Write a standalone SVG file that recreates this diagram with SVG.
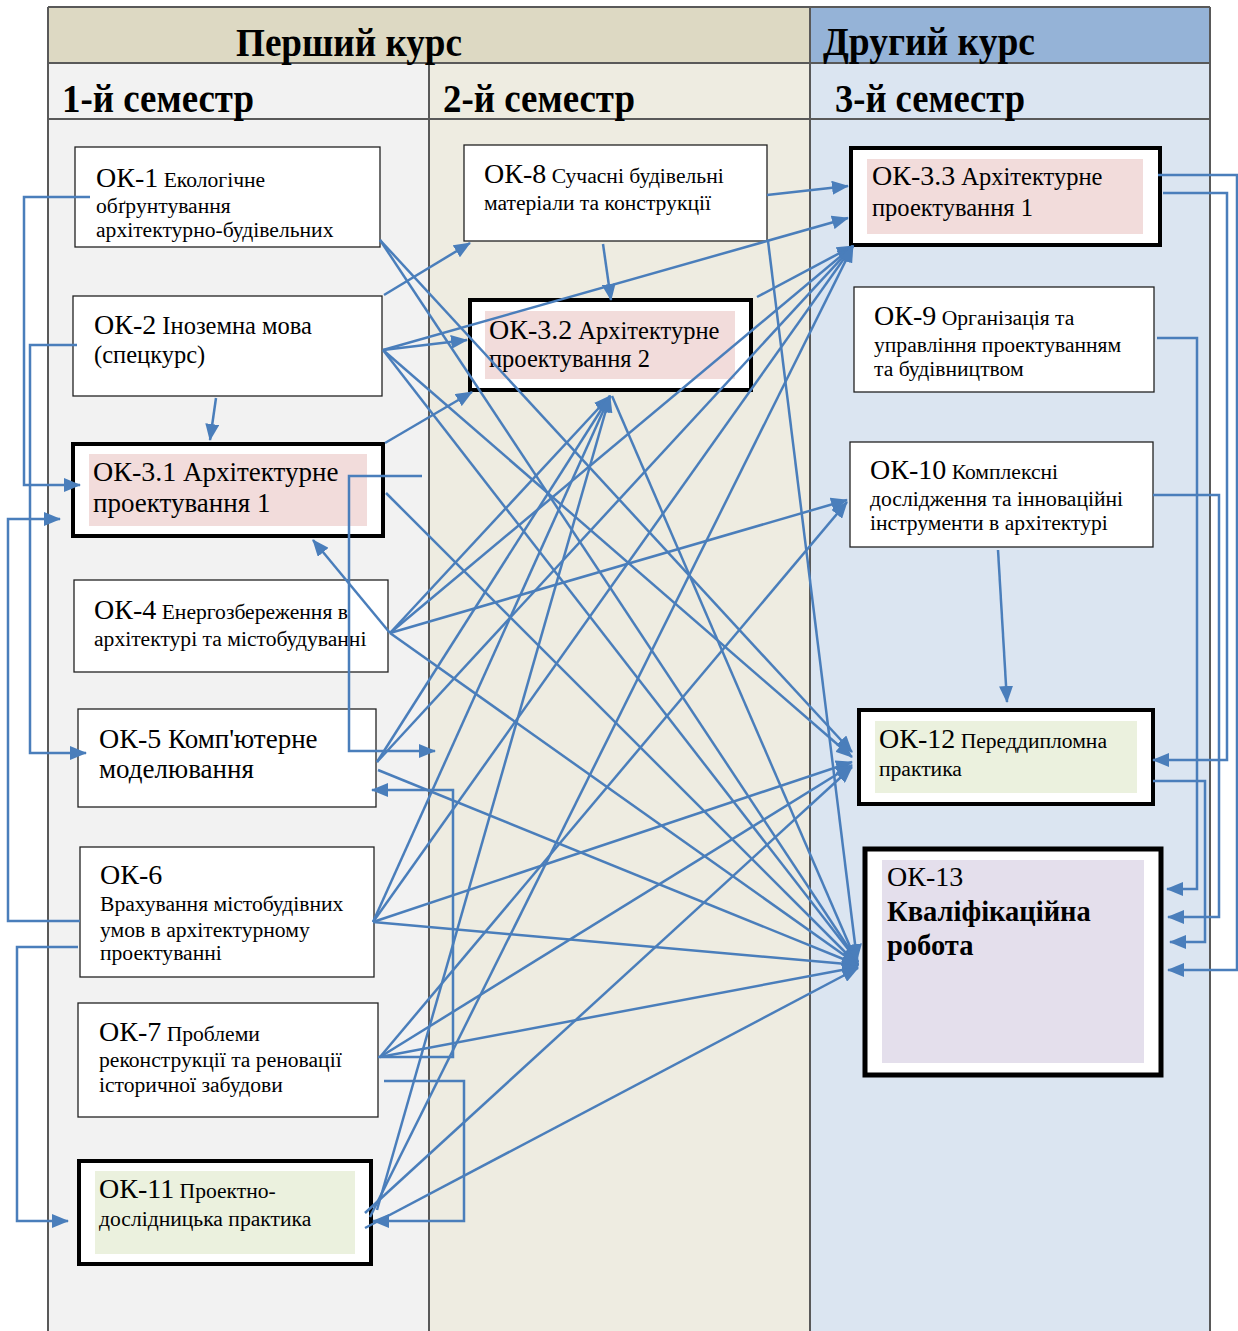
<svg xmlns="http://www.w3.org/2000/svg" width="1238" height="1331" viewBox="0 0 1238 1331">
<defs>
<marker id="ah" markerUnits="userSpaceOnUse" markerWidth="17" markerHeight="14" refX="16" refY="7" orient="auto"><path d="M0,0 L17,7 L0,14 z" fill="#4a7ebb"/></marker>
</defs>
<style>
.c{fill:none;stroke:#4a7ebb;stroke-width:2.5;marker-end:url(#ah)}
.box{fill:#fff;stroke:#222;stroke-width:1.3}
.tb{fill:#fff;stroke:#000;stroke-width:4}
.grid{stroke:#595959;stroke-width:2}
text{font-family:"Liberation Serif","Times New Roman",serif;fill:#000}
.h{font-weight:bold;font-size:40px}
.k{font-size:28px}
.s{font-size:21.6px}
.m{font-size:24.5px}
.l{font-size:27px}
.a{font-size:24.5px}
.b{font-weight:bold;font-size:28.5px}
</style>
<g id="table">
<rect x="48" y="7" width="762" height="56" fill="#ddd9c3"/>
<rect x="810" y="7" width="400" height="56" fill="#95b3d7"/>
<rect x="48" y="63" width="381" height="1268" fill="#f2f2f2"/>
<rect x="429" y="63" width="381" height="1268" fill="#eeece1"/>
<rect x="810" y="63" width="400" height="1268" fill="#dbe5f1"/>
<line class="grid" x1="48" y1="7" x2="1210" y2="7"/>
<line class="grid" x1="48" y1="63" x2="1210" y2="63"/>
<line class="grid" x1="48" y1="119" x2="1210" y2="119"/>
<line class="grid" x1="48" y1="7" x2="48" y2="1331"/>
<line class="grid" x1="429" y1="63" x2="429" y2="1331"/>
<line class="grid" x1="810" y1="7" x2="810" y2="1331"/>
<line class="grid" x1="1210" y1="7" x2="1210" y2="1331"/>
<text class="h" x="236" y="56" textLength="226" lengthAdjust="spacingAndGlyphs">Перший курс</text>
<text class="h" x="823" y="55" textLength="212" lengthAdjust="spacingAndGlyphs">Другий курс</text>
<text class="h" x="62" y="112" textLength="192" lengthAdjust="spacingAndGlyphs">1-й семестр</text>
<text class="h" x="443" y="112" textLength="192" lengthAdjust="spacingAndGlyphs">2-й семестр</text>
<text class="h" x="835" y="112" textLength="190" lengthAdjust="spacingAndGlyphs">3-й семестр</text>
</g>
<g id="ok1"><rect class="box" x="75" y="147" width="305" height="100"/>
<text x="96" y="187"><tspan class="k">ОК-1</tspan><tspan class="s"> Екологічне</tspan></text>
<text class="s" x="96" y="213">обґрунтування</text>
<text class="s" x="96" y="237">архітектурно-будівельних</text></g>
<g id="ok2"><rect class="box" x="73" y="296" width="309" height="100"/>
<text x="94" y="334"><tspan class="k">ОК-2</tspan><tspan class="m"> Іноземна мова</tspan></text>
<text class="m" x="94" y="363">(спецкурс)</text></g>
<g id="ok31"><rect class="tb" x="73" y="444" width="310" height="92"/>
<rect x="89" y="454" width="278" height="72" fill="#f2dcdb"/>
<text x="93" y="481"><tspan class="k">ОК-3.1</tspan><tspan class="l"> Архітектурне</tspan></text>
<text class="l" x="93" y="512">проектування 1</text></g>
<g id="ok4"><rect class="box" x="74" y="580" width="314" height="92"/>
<text x="94" y="619"><tspan class="k">ОК-4</tspan><tspan class="s"> Енергозбереження в</tspan></text>
<text class="s" x="94" y="646">архітектурі та містобудуванні</text></g>
<g id="ok5"><rect class="box" x="78" y="709" width="298" height="98"/>
<text x="99" y="748"><tspan class="k">ОК-5</tspan><tspan class="l"> Комп'ютерне</tspan></text>
<text class="l" x="99" y="778">моделювання</text></g>
<g id="ok6"><rect class="box" x="80" y="847" width="294" height="130"/>
<text class="k" x="100" y="884">ОК-6</text>
<text class="s" x="100" y="911">Врахування містобудівних</text>
<text class="s" x="100" y="937">умов в архітектурному</text>
<text class="s" x="100" y="960">проектуванні</text></g>
<g id="ok7"><rect class="box" x="78" y="1003" width="300" height="114"/>
<text x="99" y="1041"><tspan class="k">ОК-7</tspan><tspan class="s"> Проблеми</tspan></text>
<text class="s" x="99" y="1067">реконструкції та реновації</text>
<text class="s" x="99" y="1092">історичної забудови</text></g>
<g id="ok11"><rect class="tb" x="79" y="1161" width="292" height="103"/>
<rect x="95" y="1171" width="260" height="83" fill="#ebf1de"/>
<text x="99" y="1198"><tspan class="k">ОК-11</tspan><tspan class="s"> Проектно-</tspan></text>
<text class="s" x="99" y="1226">дослідницька практика</text></g>
<g id="ok8"><rect class="box" x="464" y="145" width="303" height="96"/>
<text x="484" y="183"><tspan class="k">ОК-8</tspan><tspan class="s"> Сучасні будівельні</tspan></text>
<text class="s" x="484" y="210">матеріали та конструкції</text></g>
<g id="ok32"><rect class="tb" x="470" y="300" width="281" height="90"/>
<rect x="485" y="311" width="250" height="68" fill="#f2dcdb"/>
<text x="489" y="339"><tspan class="k">ОК-3.2</tspan><tspan class="a"> Архітектурне</tspan></text>
<text class="a" x="489" y="367">проектування 2</text></g>
<g id="ok33"><rect class="tb" x="851" y="148" width="309" height="97"/>
<rect x="867" y="159" width="276" height="75" fill="#f2dcdb"/>
<text x="872" y="185"><tspan class="k">ОК-3.3</tspan><tspan class="a"> Архітектурне</tspan></text>
<text class="a" x="872" y="216">проектування 1</text></g>
<g id="ok9"><rect class="box" x="854" y="287" width="300" height="105"/>
<text x="874" y="325"><tspan class="k">ОК-9</tspan><tspan class="s"> Організація та</tspan></text>
<text class="s" x="874" y="352">управління проектуванням</text>
<text class="s" x="874" y="376">та будівництвом</text></g>
<g id="ok10"><rect class="box" x="850" y="442" width="303" height="105"/>
<text x="870" y="479"><tspan class="k">ОК-10</tspan><tspan class="s"> Комплексні</tspan></text>
<text class="s" x="870" y="506">дослідження та інноваційні</text>
<text class="s" x="870" y="530">інструменти в архітектурі</text></g>
<g id="ok12"><rect class="tb" x="859" y="710" width="294" height="94"/>
<rect x="875" y="721" width="262" height="72" fill="#ebf1de"/>
<text x="879" y="748"><tspan class="k">ОК-12</tspan><tspan class="s"> Переддипломна</tspan></text>
<text class="s" x="879" y="776">практика</text></g>
<g id="ok13"><rect x="865" y="849" width="296" height="226" fill="#fff" stroke="#000" stroke-width="5"/>
<rect x="882" y="860" width="262" height="203" fill="#e4dfec"/>
<text class="k" x="887" y="886">ОК-13</text>
<text class="b" x="887" y="921">Кваліфікаційна</text>
<text class="b" x="887" y="955">робота</text></g>
<g id="connectors">
<polyline class="c" points="90,197 24,197 24,485 80,485"/>
<polyline class="c" points="77,345 30,345 30,753 86,753"/>
<polyline class="c" points="80,921 8,921 8,519 60,519"/>
<polyline class="c" points="78,947 17,947 17,1221 68,1221"/>
<polyline class="c" points="422,476 349,476 349,751 435,751"/>
<polyline class="c" points="378,1057 453,1057 453,790 372,790"/>
<polyline class="c" points="384,1081 464,1081 464,1221 373,1221"/>
<polyline class="c" points="1158,175 1237,175 1237,970 1168,970"/>
<polyline class="c" points="1163,193 1227,193 1227,760 1153,760"/>
<polyline class="c" points="1157,338 1197,338 1197,889 1167,889"/>
<polyline class="c" points="1153,495 1219,495 1219,917 1168,917"/>
<polyline class="c" points="1153,781 1205,781 1205,942 1170,942"/>
<line class="c" x1="998" y1="550" x2="1007" y2="702"/>
<line class="c" x1="216" y1="398" x2="210" y2="440"/>
<line class="c" x1="603" y1="244" x2="611" y2="300"/>
<line class="c" x1="380" y1="240" x2="852" y2="752"/>
<line class="c" x1="380" y1="240" x2="858" y2="962"/>
<line class="c" x1="384" y1="295" x2="470" y2="243"/>
<line class="c" x1="383" y1="350" x2="467" y2="340"/>
<line class="c" x1="383" y1="350" x2="848" y2="218"/>
<line class="c" x1="383" y1="350" x2="852" y2="757"/>
<line class="c" x1="383" y1="350" x2="858" y2="962"/>
<line class="c" x1="385" y1="443" x2="472" y2="392"/>
<line class="c" x1="386" y1="493" x2="858" y2="965"/>
<line class="c" x1="767" y1="195" x2="848" y2="186"/>
<line class="c" x1="768" y1="241" x2="857" y2="960"/>
<line class="c" x1="757" y1="297" x2="853" y2="246"/>
<line class="c" x1="612" y1="396" x2="858" y2="965"/>
<line class="c" x1="390" y1="633" x2="313" y2="540"/>
<line class="c" x1="390" y1="633" x2="610" y2="396"/>
<line class="c" x1="390" y1="633" x2="853" y2="246"/>
<line class="c" x1="390" y1="633" x2="847" y2="500"/>
<line class="c" x1="390" y1="633" x2="858" y2="965"/>
<line class="c" x1="377" y1="762" x2="610" y2="396"/>
<line class="c" x1="377" y1="762" x2="853" y2="246"/>
<line class="c" x1="378" y1="770" x2="858" y2="965"/>
<line class="c" x1="373" y1="922" x2="610" y2="396"/>
<line class="c" x1="373" y1="922" x2="853" y2="246"/>
<line class="c" x1="373" y1="922" x2="852" y2="762"/>
<line class="c" x1="373" y1="922" x2="858" y2="965"/>
<line class="c" x1="380" y1="1057" x2="847" y2="502"/>
<line class="c" x1="380" y1="1057" x2="852" y2="765"/>
<line class="c" x1="380" y1="1057" x2="858" y2="967"/>
<line class="c" x1="377" y1="1210" x2="610" y2="396"/>
<line class="c" x1="370" y1="1217" x2="853" y2="246"/>
<line class="c" x1="365" y1="1213" x2="852" y2="767"/>
<line class="c" x1="365" y1="1228" x2="858" y2="968"/>
</g>
</svg>
